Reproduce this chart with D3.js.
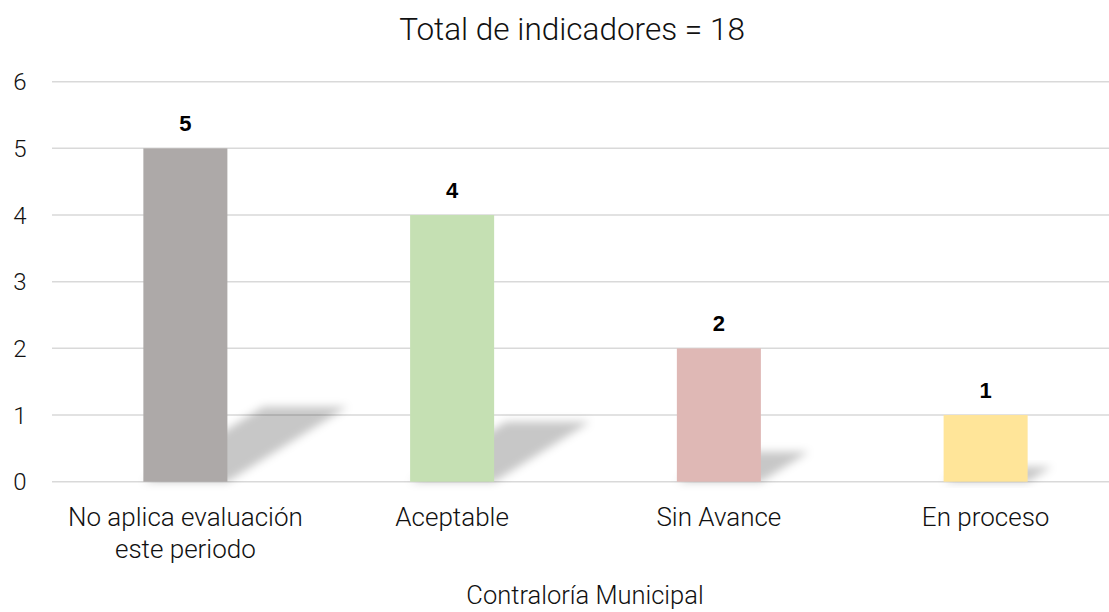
<!DOCTYPE html>
<html>
<head>
<meta charset="utf-8">
<script src="https://cdn.jsdelivr.net/npm/d3@7"></script>
<style>
  body { margin: 0; background: #fff; }
  svg { display: block; }
</style>
</head>
<body>
<script>
'use strict';

var categories = [['No aplica evaluación', 'este periodo'], ['Aceptable'], ['Sin Avance'], ['En proceso']];
var values     = [5, 4, 2, 1];
var colors     = ['#ADA9A8', '#C5E0B3', '#DFB8B5', '#FFE599'];
var yTicks     = [0, 1, 2, 3, 4, 5, 6];
var title      = 'Total de indicadores = 18';
var xTitle     = 'Contraloría Municipal';

var width  = 1109;
var height = 612;
var font   = 'Roboto, "Liberation Sans", sans-serif';

var svg = d3.select('body').append('svg')
    .attr('width', width)
    .attr('height', height);

var defs = svg.append('defs');
defs.append('filter')
    .attr('id', 'blur')
    .attr('x', '-20%').attr('y', '-40%')
    .attr('width', '140%').attr('height', '180%')
  .append('feGaussianBlur')
    .attr('stdDeviation', 4.5);

var x = d3.scaleBand()
    .domain(d3.range(values.length))
    .range([52, 1119])
    .paddingInner(0.685)
    .paddingOuter(0.3425);

var y = d3.scaleLinear()
    .domain([0, 6])
    .range([481.7, 81.7]);

// gridlines
svg.append('g').selectAll('line')
    .data(yTicks)
  .enter().append('line')
    .attr('x1', 52)
    .attr('x2', width)
    .attr('y1', function(d) { return y(d); })
    .attr('y2', function(d) { return y(d); })
    .attr('stroke', '#D9D9D9')
    .attr('stroke-width', 1.5);

// y tick labels
svg.append('g').selectAll('text')
    .data(yTicks)
  .enter().append('text')
    .attr('x', 20)
    .attr('y', function(d) { return y(d); })
    .attr('dy', '0.36em')
    .attr('text-anchor', 'middle')
    .attr('font-family', font)
    .attr('font-weight', 300)
    .attr('font-size', 24)
    .attr('fill', '#111')
    .text(function(d) { return d; });

// perspective shadows
svg.append('g').selectAll('polygon')
    .data(values)
  .enter().append('polygon')
    .attr('fill', '#000')
    .attr('fill-opacity', 0.22)
    .attr('filter', 'url(#blur)')
    .attr('points', function(d, i) {
      var x0 = x(i), x1 = x(i) + x.bandwidth();
      var h = y(0) - y(d);
      var dx = h * 0.36, s = h * 0.225;
      return [[x0, y(0)], [x0 + dx, y(0) - s], [x1 + dx, y(0) - s], [x1, y(0)]].join(' ');
    });

// bars
svg.append('g').selectAll('rect')
    .data(values)
  .enter().append('rect')
    .attr('x', function(d, i) { return x(i); })
    .attr('y', function(d) { return y(d); })
    .attr('width', x.bandwidth())
    .attr('height', function(d) { return y(0) - y(d); })
    .attr('fill', function(d, i) { return colors[i]; });

// value labels
svg.append('g').selectAll('text')
    .data(values)
  .enter().append('text')
    .attr('x', function(d, i) { return x(i) + x.bandwidth() / 2; })
    .attr('y', function(d) { return y(d) - 17; })
    .attr('text-anchor', 'middle')
    .attr('font-family', '"Liberation Sans", Arial, sans-serif')
    .attr('font-weight', 'bold')
    .attr('font-size', 22)
    .attr('fill', '#000')
    .text(function(d) { return d; });

// category labels
var cat = svg.append('g').selectAll('text')
    .data(categories)
  .enter().append('text')
    .attr('x', function(d, i) { return x(i) + x.bandwidth() / 2; })
    .attr('y', 526)
    .attr('text-anchor', 'middle')
    .attr('font-family', font)
    .attr('font-weight', 300)
    .attr('font-size', 26)
    .attr('fill', '#111');

cat.selectAll('tspan')
    .data(function(d) { return d; })
  .enter().append('tspan')
    .attr('x', function() { return d3.select(this.parentNode).attr('x'); })
    .attr('dy', function(d, j) { return j === 0 ? 0 : 32; })
    .text(function(d) { return d; });

// title
svg.append('text')
    .attr('x', 572)
    .attr('y', 40)
    .attr('text-anchor', 'middle')
    .attr('font-family', font)
    .attr('font-weight', 300)
    .attr('font-size', 31.5)
    .attr('fill', '#111')
    .text(title);

// x axis title
svg.append('text')
    .attr('x', 585)
    .attr('y', 604)
    .attr('text-anchor', 'middle')
    .attr('font-family', font)
    .attr('font-weight', 300)
    .attr('font-size', 25.5)
    .attr('fill', '#111')
    .text(xTitle);
</script>
</body>
</html>
